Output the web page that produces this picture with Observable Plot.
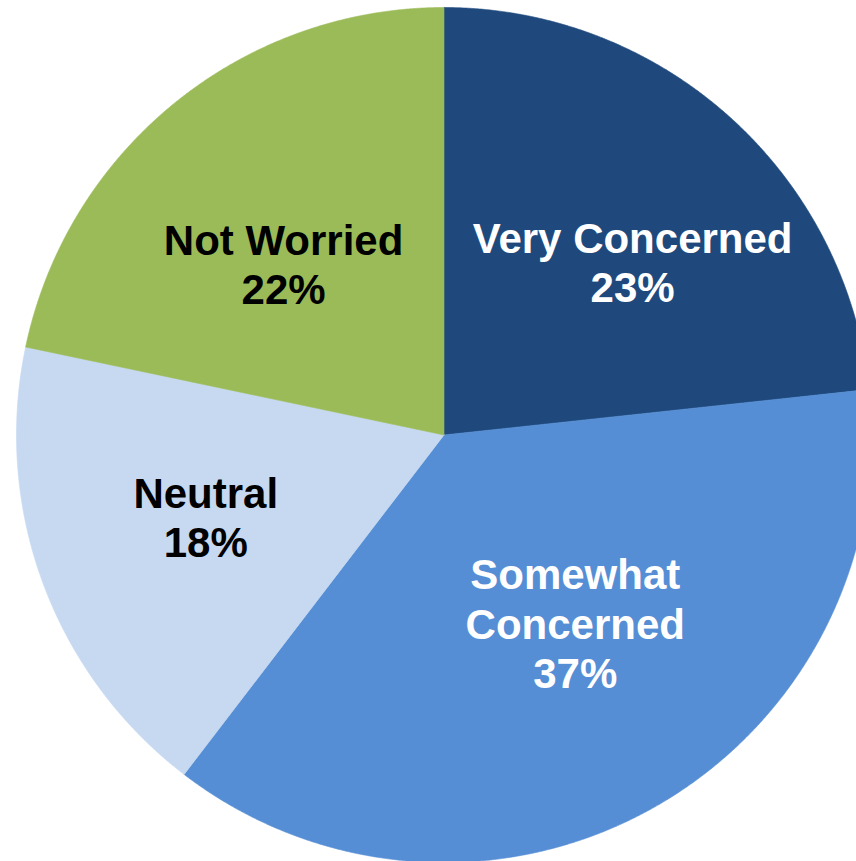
<!DOCTYPE html>
<html>
<head>
<meta charset="utf-8">
<script src="https://cdn.jsdelivr.net/npm/d3@7"></script>
<script src="https://cdn.jsdelivr.net/npm/@observablehq/plot@0.6"></script>
<style>
  html, body { margin: 0; padding: 0; background: #ffffff; overflow: hidden; }
  #chart svg { display: block; }
</style>
</head>
<body>
<div id="chart"></div>
<script>
// ---- Data ----
const categories = ["Very Concerned", "Somewhat Concerned", "Neutral", "Not Worried"];
const values = [23.3, 37.1, 17.9, 21.7];          // slice sizes
const labelText = ["Very Concerned", "Somewhat\nConcerned", "Neutral", "Not Worried"];

// ---- Style / layout ----
const colors = ["#1F497D", "#558ED5", "#C6D9F1", "#9BBB59"];
const textColors = ["#ffffff", "#ffffff", "#000000", "#000000"];
const W = 856, H = 861;
const cx = 443.5, cy = 434.5, R = 427.5;         // pixel centre & radius
const labelRadius = [0.599, 0.536, 0.589, 0.549]; // fraction of radius
const labelShift = [5.5, -5.6, 1.45, -4.05];      // degrees from mid-angle

// pie layout
const arcs = d3.pie().sort(null).startAngle(0).endAngle(2 * Math.PI)(values);

// polygons in unit coordinates (y up, angle clockwise from top)
const polyPts = [];
arcs.forEach((a, i) => {
  const cat = categories[i];
  polyPts.push({cat, x: 0, y: 0});
  const n = Math.max(2, Math.ceil((a.endAngle - a.startAngle) / (Math.PI / 720)));
  for (let k = 0; k <= n; k++) {
    const t = a.startAngle + (a.endAngle - a.startAngle) * k / n;
    polyPts.push({cat, x: Math.sin(t), y: Math.cos(t)});
  }
  polyPts.push({cat, x: 0, y: 0});
});

const labels = arcs.map((a, i) => {
  const mid = (a.startAngle + a.endAngle) / 2 + labelShift[i] * Math.PI / 180;
  return {
    cat: categories[i],
    x: labelRadius[i] * Math.sin(mid),
    y: labelRadius[i] * Math.cos(mid),
    text: labelText[i] + "\n" + Math.round(values[i]) + "%",
    color: textColors[i]
  };
});

const chart = Plot.plot({
  width: W,
  height: H,
  margin: 0,
  style: {background: "#ffffff", overflow: "hidden"},
  x: {domain: [(0 - cx) / R, (W - cx) / R], axis: null},
  y: {domain: [(cy - H) / R, cy / R], axis: null},
  color: {domain: categories, range: colors},
  marks: [
    Plot.line(polyPts, {
      x: "x", y: "y", z: "cat",
      fill: "cat", stroke: "cat", strokeWidth: 0.6,
      curve: "linear"
    }),
    Plot.text(labels, {
      x: "x", y: "y", text: "text",
      fill: d => d.color,
      fontSize: 42,
      fontWeight: "bold",
      fontFamily: "Arial, 'Liberation Sans', Helvetica, sans-serif",
      lineHeight: 1.17,
      lineAnchor: "middle",
      textAnchor: "middle"
    })
  ]
});

document.getElementById("chart").appendChild(chart);
</script>
</body>
</html>
